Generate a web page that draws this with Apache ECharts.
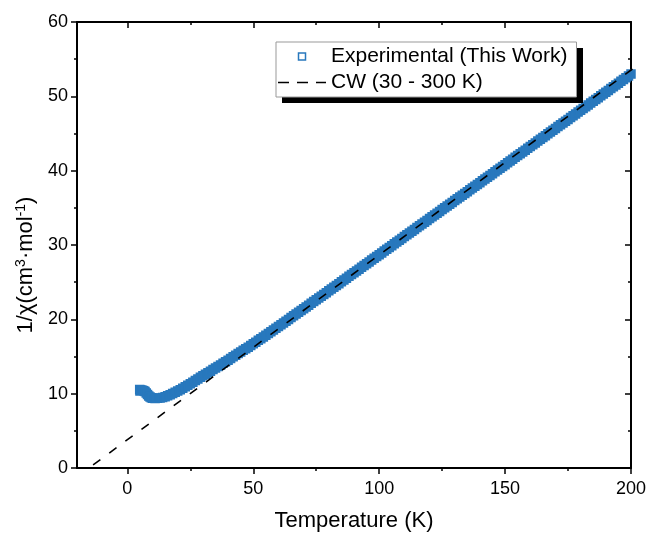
<!DOCTYPE html>
<html>
<head>
<meta charset="utf-8">
<script src="https://cdn.jsdelivr.net/npm/echarts@6/dist/echarts.min.js"></script>
<style>
  html, body { margin: 0; padding: 0; background: #fff; }
  #chart { width: 648px; height: 537px; }
</style>
</head>
<body>
<div id="chart"></div>
<script>
// measured 1/chi vs T
var expT = [4.9, 5, 5.2, 5.5, 6, 6.5, 7, 7.5, 8, 8.5, 9, 9.5, 10,
  11, 12, 13, 14, 15, 16, 17, 18, 19, 20, 21, 22, 23, 24, 25, 26, 27, 28, 29,
  30, 31, 32, 33, 34, 35, 36, 37, 38, 39, 40, 41, 42, 43, 44, 45, 46, 47, 48, 49,
  50, 51, 52, 53, 54, 55, 56, 57, 58, 59, 60, 61, 62, 63, 64, 65, 66, 67, 68, 69,
  70, 71, 72, 73, 74, 75, 76, 77, 78, 79, 80, 81, 82, 83, 84, 85, 86, 87, 88, 89,
  90, 91, 92, 93, 94, 95, 96, 97, 98, 99, 100, 101, 102, 103, 104, 105, 106, 107, 108, 109,
  110, 111, 112, 113, 114, 115, 116, 117, 118, 119, 120, 121, 122, 123, 124, 125, 126, 127, 128, 129,
  130, 131, 132, 133, 134, 135, 136, 137, 138, 139, 140, 141, 142, 143, 144, 145, 146, 147, 148, 149,
  150, 151, 152, 153, 154, 155, 156, 157, 158, 159, 160, 161, 162, 163, 164, 165, 166, 167, 168, 169,
  170, 171, 172, 173, 174, 175, 176, 177, 178, 179, 180, 181, 182, 183, 184, 185, 186, 187, 188, 189,
  190, 191, 192, 193, 194, 195, 196, 197, 198, 199, 200, 201, 202];
var expInvChi = [10.55, 10.35, 10.5, 10.45, 10.45, 10.4, 10.3, 10.1, 9.9, 9.7, 9.55, 9.45, 9.4,
  9.35, 9.37, 9.42, 9.5, 9.6, 9.72, 9.86, 10.01, 10.18, 10.36, 10.54, 10.73, 10.93, 11.13, 11.34, 11.55, 11.76, 11.98, 12.2,
  12.42, 12.61, 12.82, 13.03, 13.24, 13.45, 13.66, 13.87, 14.08, 14.29,
  14.51, 14.73, 14.95, 15.17, 15.39, 15.61, 15.83, 16.04, 16.26, 16.48,
  16.7, 16.93, 17.17, 17.4, 17.63, 17.86, 18.1, 18.33, 18.56, 18.8,
  19.03, 19.27, 19.51, 19.75, 19.99, 20.23, 20.47, 20.71, 20.95, 21.19,
  21.43, 21.67, 21.91, 22.15, 22.39, 22.63, 22.87, 23.11, 23.35, 23.59,
  23.83, 24.07, 24.32, 24.56, 24.8, 25.05, 25.29, 25.53, 25.78, 26.02,
  26.26, 26.51, 26.75, 26.99, 27.24, 27.48, 27.72, 27.97, 28.21, 28.45,
  28.7, 28.94, 29.19, 29.43, 29.67, 29.91, 30.16, 30.4, 30.64, 30.88,
  31.13, 31.37, 31.61, 31.85, 32.1, 32.34, 32.58, 32.82, 33.07, 33.31,
  33.55, 33.79, 34.03, 34.28, 34.52, 34.76, 35.0, 35.24, 35.49, 35.73,
  35.97, 36.21, 36.45, 36.7, 36.94, 37.18, 37.42, 37.66, 37.91, 38.15,
  38.39, 38.63, 38.87, 39.12, 39.36, 39.6, 39.84, 40.08, 40.33, 40.57,
  40.81, 41.05, 41.3, 41.54, 41.79, 42.03, 42.27, 42.52, 42.76, 43.0,
  43.25, 43.49, 43.73, 43.98, 44.22, 44.47, 44.71, 44.95, 45.2, 45.44,
  45.68, 45.93, 46.17, 46.41, 46.66, 46.9, 47.15, 47.39, 47.63, 47.88,
  48.12, 48.36, 48.61, 48.85, 49.09, 49.34, 49.58, 49.82, 50.07, 50.31,
  50.56, 50.8, 51.04, 51.29, 51.53, 51.77, 52.02, 52.26, 52.5, 52.75,
  52.99, 53.23, 53.48];

// Curie-Weiss fit line, ends only
var cwT = [-20, 300];
var cwInvChi = [-1.17, 78.4];

var xMajor = [0, 50, 100, 150, 200];
var xMinor = [25, 75, 125, 175];

var expName = "Experimental (This Work)";
var cwName = "CW (30 - 300 K)";

var blue = "#2878bd";
var font = "Liberation Sans";

function zip(a, b) {
  var out = [];
  for (var i = 0; i < a.length; i++) out.push([a[i], b[i]]);
  return out;
}

var myChart = echarts.init(document.getElementById("chart"));

var gridBox = { left: 77, right: 17, top: 22, bottom: 69, outerBoundsMode: "none" };
var axisLineStyle = { show: true, onZero: false, lineStyle: { color: "#000", width: 2 } };
var noLine = { show: false, onZero: false };
var tickLine = { color: "#000", width: 1.5 };

myChart.setOption({
  animation: false,
  backgroundColor: "#fff",
  grid: [gridBox, Object.assign({}, gridBox)],
  // legend drop shadow
  graphic: [
    {
      type: "rect",
      z: 5,
      shape: { x: 282, y: 48, width: 301, height: 55 },
      style: { fill: "#000" }
    }
  ],
  legend: {
    z: 6,
    orient: "vertical",
    left: 276,
    top: 42,
    padding: [4, 9, 4, 2],
    itemGap: 5,
    itemWidth: 48,
    itemHeight: 14,
    backgroundColor: "#fff",
    borderColor: "#999",
    borderWidth: 1,
    borderRadius: 0,
    textStyle: { fontFamily: font, fontSize: 21, color: "#000" },
    data: [
      {
        name: expName,
        icon: "path://M0,0M14,14M3.5,3.5L10.5,3.5L10.5,10.5L3.5,10.5Z",
        itemStyle: { color: "#fff", borderColor: blue, borderWidth: 1.5 }
      },
      {
        name: cwName,
        icon: "path://M0,0M48,14M0,6.2L11,6.2L11,7.8L0,7.8Z M19,6.2L30,6.2L30,7.8L19,7.8Z M38,6.2L48,6.2L48,7.8L38,7.8Z",
        itemStyle: { color: "#000", borderWidth: 0 }
      }
    ]
  },
  xAxis: [
    {
      gridIndex: 0, type: "value", position: "bottom", min: -20, max: 200,
      name: "Temperature (K)", nameLocation: "middle", nameGap: 42,
      nameTextStyle: { fontFamily: font, fontSize: 22, color: "#000" },
      axisLine: axisLineStyle,
      axisTick: { show: true, inside: false, length: 6, customValues: xMajor, lineStyle: tickLine },
      axisLabel: { show: true, customValues: xMajor, margin: 12, fontFamily: font, fontSize: 18, color: "#000" },
      splitLine: { show: false }
    },
    {
      gridIndex: 0, type: "value", position: "top", min: -20, max: 200,
      axisLine: axisLineStyle,
      axisTick: { show: true, inside: true, length: 6, customValues: xMajor, lineStyle: tickLine },
      axisLabel: { show: false },
      splitLine: { show: false }
    },
    {
      gridIndex: 1, type: "value", position: "bottom", min: -20, max: 200,
      axisLine: noLine,
      axisTick: { show: true, inside: false, length: 3, customValues: xMinor, lineStyle: tickLine },
      axisLabel: { show: false },
      splitLine: { show: false }
    },
    {
      gridIndex: 1, type: "value", position: "top", min: -20, max: 200,
      axisLine: noLine,
      axisTick: { show: true, inside: true, length: 3, customValues: xMinor, lineStyle: tickLine },
      axisLabel: { show: false },
      splitLine: { show: false }
    }
  ],
  yAxis: [
    {
      gridIndex: 0, type: "value", position: "left", min: 0, max: 60, interval: 10,
      name: "{a|1/χ(cm}{s|3}{a|·mol}{s|-1}{a|)}",
      nameLocation: "middle", nameGap: 34, nameRotate: 90,
      nameTextStyle: {
        padding: [0, 40, 0, 0],
        rich: {
          a: { fontFamily: font, fontSize: 22, color: "#000", lineHeight: 24 },
          s: { fontFamily: font, fontSize: 14, color: "#000", lineHeight: 14, verticalAlign: "top" }
        }
      },
      axisLine: axisLineStyle,
      axisTick: { show: true, inside: false, length: 6, lineStyle: tickLine },
      minorTick: { show: true, splitNumber: 2, length: 3, lineStyle: tickLine },
      axisLabel: { margin: 9, fontFamily: font, fontSize: 18, color: "#000" },
      splitLine: { show: false },
      minorSplitLine: { show: false }
    },
    {
      gridIndex: 0, type: "value", position: "right", min: 0, max: 60, interval: 10,
      axisLine: axisLineStyle,
      axisTick: { show: true, inside: true, length: 6, lineStyle: tickLine },
      minorTick: { show: true, splitNumber: 2, length: 3, lineStyle: tickLine },
      axisLabel: { show: false },
      splitLine: { show: false },
      minorSplitLine: { show: false }
    },
    {
      gridIndex: 1, type: "value", min: 0, max: 60, show: false,
      axisLine: noLine
    }
  ],
  series: [
    {
      name: expName,
      type: "scatter",
      xAxisIndex: 0,
      yAxisIndex: 0,
      symbol: "rect",
      symbolSize: 8,
      clip: true,
      itemStyle: { color: blue, borderColor: blue, borderWidth: 1.5, opacity: 1 },
      emphasis: { disabled: true },
      z: 2,
      data: zip(expT, expInvChi)
    },
    {
      name: cwName,
      type: "line",
      xAxisIndex: 0,
      yAxisIndex: 0,
      symbol: "none",
      showSymbol: false,
      clip: true,
      lineStyle: { color: "#000", width: 1.6, type: [9, 11] },
      itemStyle: { color: "#000" },
      z: 3,
      data: zip(cwT, cwInvChi)
    }
  ]
});
</script>
</body>
</html>
